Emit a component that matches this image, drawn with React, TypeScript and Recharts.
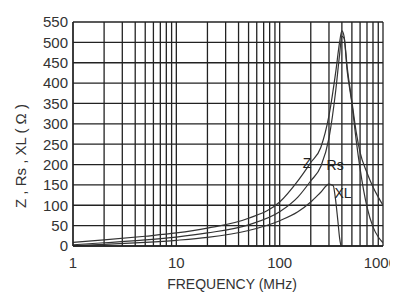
import {
  LineChart,
  Line,
  XAxis,
  YAxis,
  CartesianGrid,
  ReferenceDot,
} from "recharts";

// impedance curves (MHz -> ohm)
const zFreq = [1, 2, 5, 10, 20, 50, 100, 150, 200, 250, 300, 350, 380, 400, 420, 450, 500, 550, 600, 700, 800, 900, 1000];
const zVals = [9, 15, 24, 32, 44, 68, 108, 160, 205, 242, 320, 430, 500, 528, 515, 440, 355, 280, 230, 180, 145, 120, 100];

const rsFreq = [1, 2, 5, 10, 20, 50, 100, 150, 200, 250, 300, 350, 380, 400, 420, 450, 500, 550, 600, 700, 800, 900, 1000];
const rsVals = [3, 8, 15, 22, 32, 52, 84, 120, 160, 195, 265, 385, 470, 515, 510, 430, 350, 260, 190, 96, 47, 22, 8];

const xlFreq = [1, 2, 5, 10, 20, 50, 100, 150, 200, 250, 300, 330, 345, 365, 380, 392];
const xlVals = [1, 4, 9, 14, 21, 38, 62, 84, 108, 132, 152, 148, 120, 64, 20, 0];

const decades = [1, 10, 100, 1000];
const yTicks = [0, 50, 100, 150, 200, 250, 300, 350, 400, 450, 500, 550];

// log grid: 1..9 in every decade
const gridTicks: number[] = [];
decades.slice(0, -1).forEach((d) => {
  for (let m = 1; m < 10; m++) gridTicks.push(d * m);
});
gridTicks.push(1000);

const toRows = (fs: number[], vs: number[]) =>
  fs.map((f, i) => ({ f, v: vs[i] }));

const zData = toRows(zFreq, zVals);
const rsData = toRows(rsFreq, rsVals);
const xlData = toRows(xlFreq, xlVals);

const ink = "#222";
const font = "Arial, 'Liberation Sans', sans-serif";

function FreqTick(props: any) {
  const { x, y, payload } = props;
  const v = payload.value;
  if (!decades.includes(v)) return null;
  const last = v === decades[decades.length - 1];
  return (
    <text
      x={last ? x + 14 : x}
      y={y + 9}
      dy="0.71em"
      textAnchor={last ? "end" : "middle"}
      fontSize={15}
      fontFamily={font}
      fill="#333"
    >
      {v}
    </text>
  );
}

function YLabel() {
  return (
    <text
      x={12}
      y={148}
      transform="rotate(-90, 12, 148)"
      textAnchor="middle"
      dominantBaseline="central"
      fontSize={15}
      fontFamily={font}
      fill="#333"
    >
      Z , Rs , XL ( Ω )
    </text>
  );
}

export default function App() {
  return (
    <LineChart
      width={390}
      height={288}
      margin={{ top: 14, right: 15, left: 0, bottom: 0 }}
      style={{ fontFamily: font }}
    >
      <CartesianGrid stroke={ink} strokeWidth={1.3} />
      <XAxis
        dataKey="f"
        type="number"
        scale="log"
        domain={[1, 1000]}
        allowDataOverflow
        ticks={gridTicks}
        interval={0}
        tickSize={0}
        height={50}
        axisLine={{ stroke: ink, strokeWidth: 1.3 }}
        tick={<FreqTick />}
        label={{
          value: "FREQUENCY (MHz)",
          position: "insideBottom",
          offset: 7,
          dx: 4,
          fontSize: 14,
          fill: "#333",
        }}
      />
      <YAxis
        type="number"
        domain={[0, 550]}
        ticks={yTicks}
        interval={0}
        width={65}
        tickSize={0}
        tickMargin={5}
        axisLine={{ stroke: ink, strokeWidth: 1.3 }}
        tick={{ fontSize: 15, fill: "#333" }}
        label={<YLabel />}
      />
      <Line data={zData} dataKey="v" type="monotone" stroke="#333" strokeWidth={1.2} dot={false} isAnimationActive={false} />
      <Line data={rsData} dataKey="v" type="monotone" stroke="#333" strokeWidth={1.2} dot={false} isAnimationActive={false} />
      <Line data={xlData} dataKey="v" type="monotone" stroke="#333" strokeWidth={1.2} dot={false} isAnimationActive={false} />
      <ReferenceDot x={184} y={204} r={0} label={{ value: "Z", fontSize: 14, fill: "#222" }} />
      <ReferenceDot x={344} y={199} r={0} label={{ value: "Rs", fontSize: 14, fill: "#222" }} />
      <ReferenceDot x={410} y={130} r={0} label={{ value: "XL", fontSize: 14, fill: "#222" }} />
    </LineChart>
  );
}
